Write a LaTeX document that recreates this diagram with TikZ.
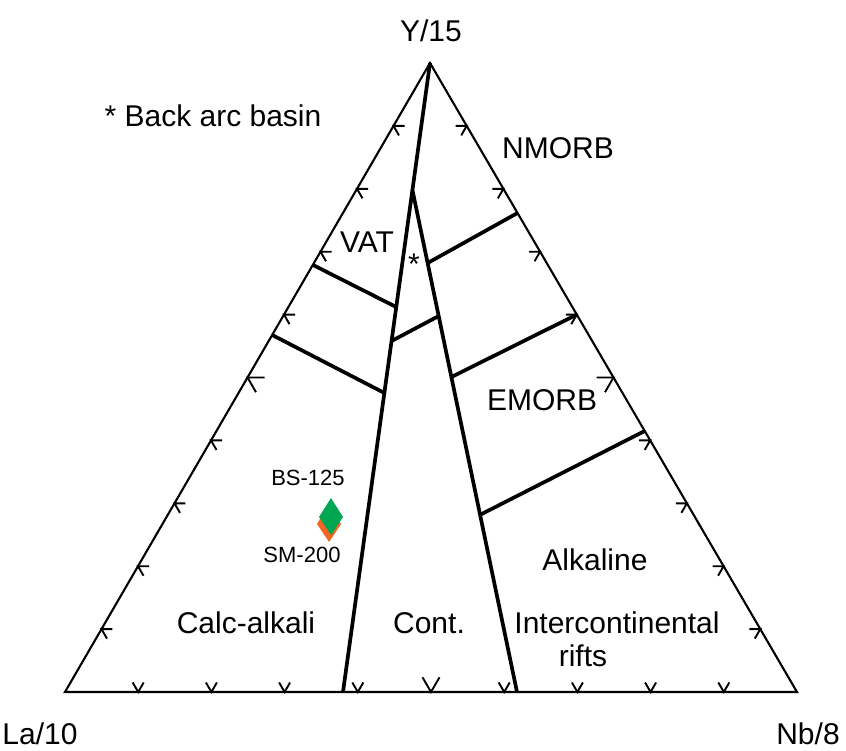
\documentclass[tikz,border=0pt]{standalone}
\usepackage{fontspec}
\setmainfont{Liberation Sans}
\usetikzlibrary{calc}
\definecolor{markgreen}{RGB}{0,166,81}
\definecolor{markorange}{RGB}{242,101,34}
\begin{document}
\begin{tikzpicture}[x=1pt,y=-1pt,
  edge/.style={line width=2.1pt,line join=miter},
  bnd/.style={line width=3.7pt,line cap=butt},
  tickmark/.style={line width=1.9pt},
  lbl/.style={font=\fontsize{30}{34}\selectfont,inner sep=0pt},
  smalllbl/.style={font=\fontsize{22}{26}\selectfont,inner sep=0pt}]
\useasboundingbox (0,0) rectangle (846,751);

% corners of the ternary diagram
\coordinate (A) at (65,692);   % La/10
\coordinate (B) at (797,692);  % Nb/8
\coordinate (C) at (430,63);   % Y/15

% main dividing lines
\coordinate (D) at (343,692);
\coordinate (E) at ($(C)!0.202!(D)$);
\coordinate (F) at (517,692);

\draw[edge] (A) -- (B) -- (C) -- cycle;

% ticks every 10 percent along the three sides
\foreach \k in {1,...,9}{
  \pgfmathsetmacro{\len}{\k==5 ? 17 : 11}
  \coordinate (pl) at ($(A)!\k/10!(C)$);
  \coordinate (pr) at ($(B)!\k/10!(C)$);
  \coordinate (pb) at ($(A)!\k/10!(B)$);
  \draw[tickmark] ($(pl)+(\len,0)$) -- (pl) -- ($(pl)+(0.5*\len,0.866*\len)$);
  \draw[tickmark] ($(pr)+(-\len,0)$) -- (pr) -- ($(pr)+(-0.5*\len,0.866*\len)$);
  \draw[tickmark] ($(pb)+(0.5*\len,-0.866*\len)$) -- (pb) -- ($(pb)+(-0.5*\len,-0.866*\len)$);
}

% field boundaries
\draw[bnd] (C) -- (D);
\draw[bnd] (E) -- (F);
\draw[bnd] ($(A)!0.679!(C)$) -- ($(C)!0.388!(D)$);
\draw[bnd] ($(A)!0.5676!(C)$) -- ($(C)!0.5246!(D)$);
\draw[bnd] ($(C)!0.442!(D)$) -- ($(E)!0.251!(F)$);
\draw[bnd] ($(E)!0.1454!(F)$) -- ($(B)!0.7615!(C)$);
\draw[bnd] ($(E)!0.3725!(F)$) -- ($(B)!0.6!(C)$);
\draw[bnd] ($(E)!0.647!(F)$) -- ($(B)!0.415!(C)$);

% apex and axis labels
\node[lbl] (ylab) at (431,31) {Y/15};
\node[lbl] (lalab) at (40,734) {La/10};
\node[lbl] (nblab) at (808,734) {Nb/8};

% field names
\node[lbl] (bab) at (213,116) {* Back arc basin};
\node[lbl] (nmorb) at (558,148) {NMORB};
\node[lbl] (vat) at (367,242) {VAT};
\node[lbl] (star) at (414,264) {*};
\node[lbl] (emorb) at (542,400) {EMORB};
\node[lbl] (alk) at (595,560) {Alkaline};
\node[lbl] (icr) at (617,623) {Intercontinental};
\node[lbl] (rifts) at (583,656) {rifts};
\node[lbl] (calc) at (246,623) {Calc-alkali};
\node[lbl] (cont) at (429,623) {Cont.};

% samples
\fill[markorange] (329,504) -- (341,524) -- (329,542) -- (317,524) -- cycle;
\fill[markgreen] (331,498) -- (343,517) -- (331,535) -- (319,517) -- cycle;
\node[smalllbl] (bs) at (308,478) {BS-125};
\node[smalllbl] (sm) at (302,555) {SM-200};
\end{tikzpicture}
\end{document}
